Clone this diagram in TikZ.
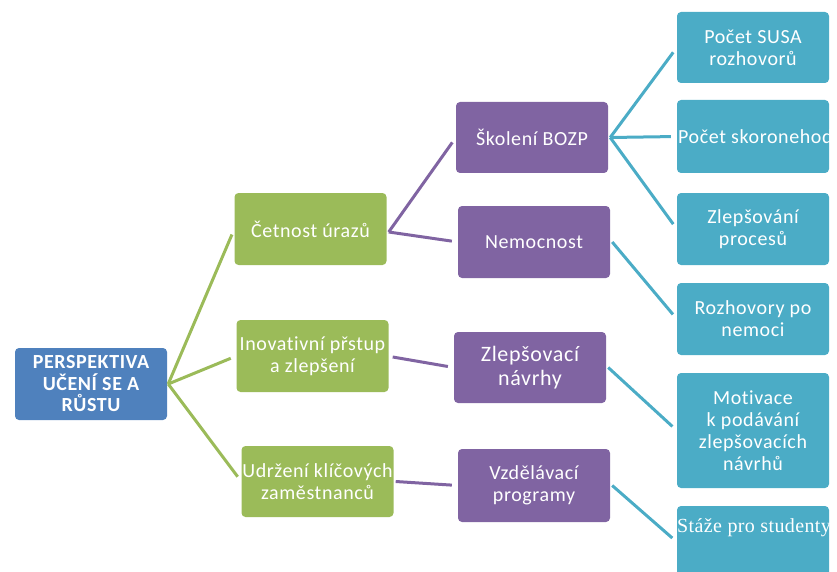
\documentclass[tikz,border=0pt]{standalone}
\usepackage{fontspec}
\setmainfont{Carlito}[LetterSpace=3, Ligatures=NoCommon]
\newfontfamily\slabfont{Liberation Serif}[LetterSpace=2]
\definecolor{rootblue}{HTML}{4F81BD}
\definecolor{lvlgreen}{HTML}{9BBB59}
\definecolor{lvlpurple}{HTML}{8064A2}
\definecolor{lvlcyan}{HTML}{4BACC6}
\tikzset{
  box/.style={rounded corners=4pt, inner sep=0pt, align=center, text=white,
    minimum width=152pt, minimum height=72pt,
    font=\fontsize{20}{22}\selectfont},
  rootbox/.style={box, fill=rootblue, font=\fontsize{20}{21.5}\selectfont\bfseries},
  greenbox/.style={box, fill=lvlgreen},
  purplebox/.style={box, fill=lvlpurple},
  cyanbox/.style={box, fill=lvlcyan},
  link/.style={line width=3pt, line join=round, shorten >=6pt},
}
\begin{document}
\begin{tikzpicture}[x=1pt, y=-1pt]
\useasboundingbox (0,0) rectangle (837,572);
\clip (0,0) rectangle (837,572);

% root
\node[rootbox] (root) at (91,384) {PERSPEKTIVA\\UČENÍ SE A\\RŮSTU};

% second level
\node[greenbox] (g1) at (310.5,229) {Četnost úrazů};
\node[greenbox] (g2) at (312.5,356) {Inovativní přstup\\a zlepšení};
\node[greenbox, minimum height=71pt] (g3) at (317.5,481.5) {Udržení klíčových\\zaměstnanců};

% third level
\node[purplebox, minimum height=71pt] (p1) at (532,137.5) {Školení BOZP};
\node[purplebox] (p2) at (534,242) {Nemocnost};
\node[purplebox, minimum height=71pt, font=\fontsize{22}{24}\selectfont] (p3) at (530,367.5) {Zlepšovací\\návrhy};
\node[purplebox, minimum height=73pt] (p4) at (534,485.5) {Vzdělávací\\programy};

% fourth level
\node[cyanbox, minimum height=71pt] (c1) at (753,47.5) {Počet SUSA\\rozhovorů};
\node[cyanbox, minimum height=73pt] (c2) at (753,136.5) {};
\node[anchor=west, inner sep=0pt, text=white, font=\fontsize{20}{22}\selectfont] (c2t) at (678,137) {Počet skoronehod};
\node[cyanbox] (c3) at (753,229) {Zlepšování\\procesů};
\node[cyanbox] (c4) at (753,319) {Rozhovory po\\nemoci};
\node[cyanbox, minimum height=115pt] (c5) at (753,430.5) {Motivace\\k podávání\\zlepšovacích\\návrhů};
\node[cyanbox] (c6) at (753,542) {};
\node[anchor=west, inner sep=0pt, text=white, font=\slabfont\fontsize{20}{22}\selectfont] (c6t) at (677,528) {Stáže pro studenty};

% connectors
\foreach \t in {g1,g2,g3}
  \draw[link, lvlgreen] ([xshift=1pt]root.east) -- (\t.west);
\draw[link, lvlpurple] ([xshift=2pt,yshift=-3pt]g1.east) -- (p1.west);
\draw[link, lvlpurple] ([xshift=2pt,yshift=-3pt]g1.east) -- (p2.west);
\draw[link, lvlpurple] ([xshift=4pt,yshift=-1pt]g2.east) -- (p3.west);
\draw[link, lvlpurple] ([xshift=2pt]g3.east) -- (p4.west);
\foreach \t in {c1,c2,c3}
  \draw[link, lvlcyan] ([xshift=2pt]p1.east) -- (\t.west);
\draw[link, lvlcyan] ([xshift=2pt]p2.east) -- (c4.west);
\draw[link, lvlcyan] ([xshift=2pt]p3.east) -- (c5.west);
\draw[link, lvlcyan] ([xshift=2pt]p4.east) -- (c6.west);
\end{tikzpicture}
\end{document}
